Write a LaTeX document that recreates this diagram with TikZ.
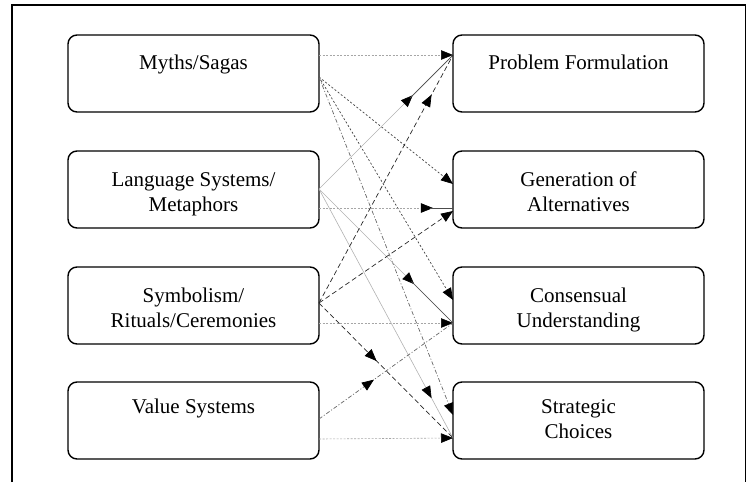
\documentclass[tikz,border=0pt]{standalone}
\usepackage{fontspec}
\setmainfont{Liberation Serif}
\usetikzlibrary{arrows.meta,decorations.markings,calc}

\tikzset{
  box/.style={draw, line width=1.4pt, rounded corners=9pt, minimum width=251pt,
    minimum height=77pt, inner sep=0pt, outer sep=0pt},
  lbl/.style={font=\fontsize{21}{25}\selectfont, align=center, inner sep=0pt, anchor=base},
  tip/.style={-{Triangle[length=12pt,width=9.5pt,color=black]}},
  midtip/.style={postaction={decorate}, decoration={markings,
    mark=at position #1 with {\arrow{Triangle[length=12pt,width=9.5pt,color=black]}}}},
  hline/.style={line width=0.6pt, black!35, dash pattern=on 2pt off 1.5pt},
  dotln/.style={line width=0.7pt, black!75, dash pattern=on 2pt off 2pt},
  dashdotln/.style={line width=0.7pt, black!60, dash pattern=on 4pt off 2pt on 1pt off 2pt},
  greyln/.style={line width=0.6pt, black!30},
  dashln/.style={line width=0.7pt, black!85, dash pattern=on 5pt off 3pt},
  tail/.style={line width=0.7pt, black!70},
  frame/.style={line width=1.3pt}
}

\begin{document}
\begin{tikzpicture}[x=1pt,y=-1pt]
\useasboundingbox (0,0) rectangle (747,482);

% open outer frame
\draw[frame] (12,482) -- (12,5) -- (745.5,5) -- (745.5,482);

% cultural elements (left column)
\node[box] (m) at (193.5,73.5) {};
\node[box] (l) at (193.5,189.5) {};
\node[box] (s) at (193.5,305.5) {};
\node[box] (v) at (193.5,420.5) {};
% decision process stages (right column)
\node[box] (p) at (578.5,73.5) {};
\node[box] (g) at (578.5,189.5) {};
\node[box] (c) at (578.5,305.5) {};
\node[box] (t) at (578.5,420.5) {};

% labels (base anchor sits on the last line)
\node[lbl] (mt) at ([yshift=-34pt]m.north) {Myths/Sagas};
\node[lbl] (lt) at ([yshift=-60pt]l.north) {Language Systems/\\Metaphors};
\node[lbl] (st) at ([yshift=-60pt]s.north) {Symbolism/\\Rituals/Ceremonies};
\node[lbl] (vt) at ([yshift=-31pt]v.north) {Value Systems};
\node[lbl] (pt) at ([yshift=-34pt]p.north) {Problem Formulation};
\node[lbl] (gt) at ([yshift=-60pt]g.north) {Generation of\\Alternatives};
\node[lbl] (ct) at ([yshift=-60pt]c.north) {Consensual\\Understanding};
\node[lbl] (tt) at ([yshift=-56pt]t.north) {Strategic\\Choices};

% connection points on the boxes
\coordinate (mA) at ([yshift=-20pt]m.north east);
\coordinate (mB) at ([yshift=-42pt]m.north east);
\coordinate (lB) at ([yshift=-38pt]l.north east);
\coordinate (lA) at ([yshift=-57pt]l.north east);
\coordinate (sB) at ([yshift=-36pt]s.north east);
\coordinate (sA) at ([yshift=-56pt]s.north east);
\coordinate (vB) at ([yshift=-37pt]v.north east);
\coordinate (vA) at ([yshift=-57pt]v.north east);

\coordinate (pA) at ([yshift=-20pt]p.north west);
\coordinate (gB) at ([yshift=-33pt]g.north west);
\coordinate (gA) at ([yshift=-57pt]g.north west);
\coordinate (gC) at ([yshift=-60pt]g.north west);
\coordinate (cB) at ([yshift=-33pt]c.north west);
\coordinate (cA) at ([yshift=-56pt]c.north west);
\coordinate (tB) at ([yshift=-33pt]t.north west);
\coordinate (tA) at ([yshift=-56pt]t.north west);

% Myths/Sagas
\draw[hline, tip] (mA) -- (pA);
\draw[dotln, tip] (mB) -- (gB);
\draw[dotln, tip] (mB) -- (cB);
\draw[dashdotln, tip] (mB) -- (tB);

% Language Systems/Metaphors
\draw[greyln, midtip=0.70] (lB) -- (pA);
\draw[tail] ($(lB)!0.68!(pA)$) -- (pA);
\draw[hline, midtip=0.85] (lA) -- (gA);
\draw[tail] ($(lA)!0.83!(gA)$) -- (gA);
\draw[greyln, midtip=0.71] (lB) -- (cA);
\draw[tail] ($(lB)!0.69!(cA)$) -- (cA);
\draw[greyln, midtip=0.84] (lB) -- (tA);

% Symbolism/Rituals/Ceremonies
\draw[dashln, midtip=0.84] (sB) -- (pA);
\draw[dashln, tip] (sB) -- (gC);
\draw[hline, tip] (sA) -- (cA);
\draw[dashln, midtip=0.43] (sB) -- (tA);

% Value Systems
\draw[dashdotln, midtip=0.41] (vB) -- (cA);
\draw[hline, tip] (vA) -- (tA);
\end{tikzpicture}
\end{document}
